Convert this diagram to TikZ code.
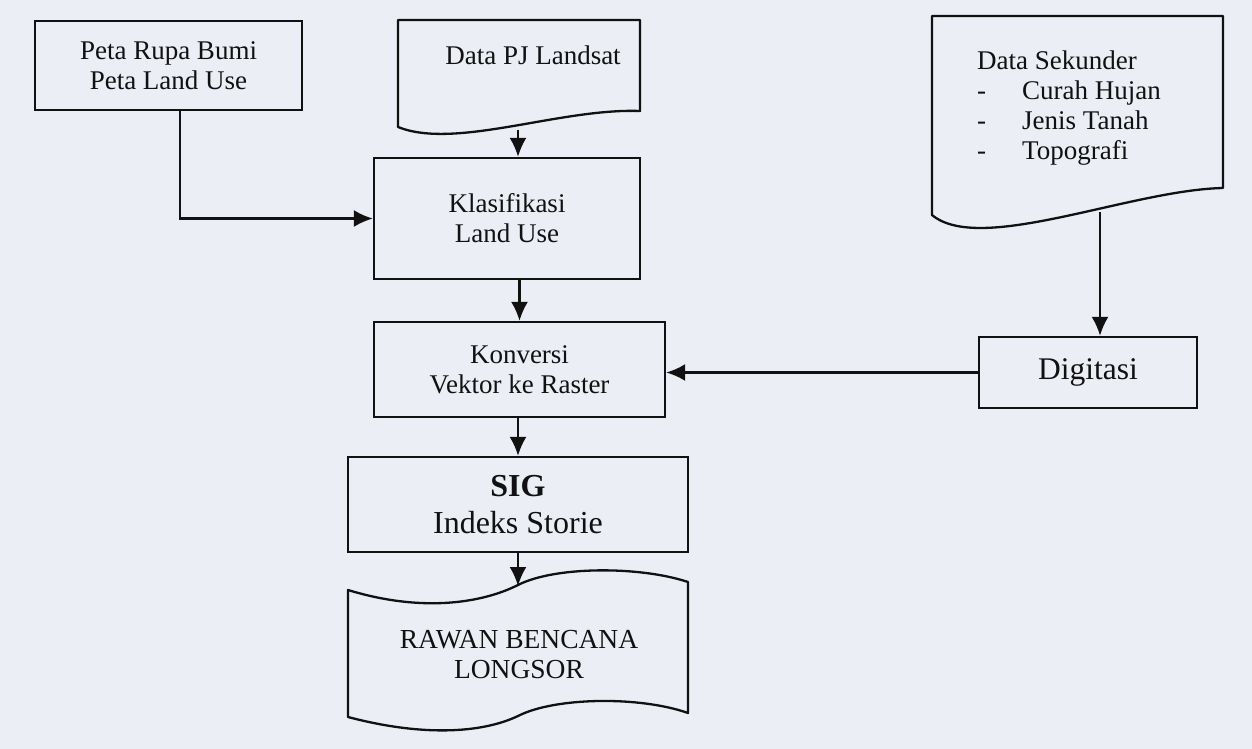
\documentclass[tikz,border=0pt]{standalone}
\usepackage{fontspec}
\setmainfont{Liberation Serif}
\usetikzlibrary{arrows.meta}
\definecolor{paper}{HTML}{EBEEF4}
\definecolor{ink}{HTML}{111111}
\tikzset{
  ln/.style={draw=ink, line width=2.3pt},
  arr/.style={ln, -{Latex[length=19pt,width=17pt]}},
  boxst/.style={ln, rectangle, inner sep=0pt, align=center, text=ink},
  txt/.style={inner sep=0pt, align=center, text=ink},
  f26/.style={font=\fontsize{27}{30}\selectfont},
  f32/.style={font=\fontsize{32}{37}\selectfont},
}
\begin{document}
\begin{tikzpicture}[x=1pt,y=-1pt]
\fill[paper] (0,0) rectangle (1252,749);
\useasboundingbox (0,0) rectangle (1252,749);

% Peta Rupa Bumi box
\node[boxst,f26,minimum width=267pt,minimum height=89pt] (peta) at (168.5,65.5)
  {Peta Rupa Bumi\\Peta Land Use};

% Data PJ Landsat (document)
\draw[ln, line join=round] (640,20) -- (398,20) -- (398,127)
  .. controls (455,150) and (560,108) .. (640,111) -- cycle;
\node[txt,f26] (pj) at (533,55) {Data PJ Landsat};
\coordinate (pjb) at (518,130);

% Klasifikasi
\node[boxst,f26,minimum width=266pt,minimum height=121pt] (klas) at (507,218.5)
  {Klasifikasi\\Land Use};

% Data Sekunder (document)
\draw[ln, line join=round] (1223,16) -- (932,16) -- (932,215)
  .. controls (980,255) and (1130,190) .. (1223,188) -- cycle;
\node[txt,f26,anchor=north west] (ds) at (977,48)
  {\begin{tabular}{@{}l@{\hspace{36pt}}l@{}}
   \multicolumn{2}{@{}l@{}}{Data Sekunder}\\
   - & Curah Hujan\\
   - & Jenis Tanah\\
   - & Topografi
   \end{tabular}};
\coordinate (dsb) at (1100,212);

% Digitasi
\node[boxst,font=\fontsize{31.5}{36}\selectfont,minimum width=218pt,minimum height=71pt] (digi) at (1088,372.5)
  {Digitasi};

% Konversi
\node[boxst,f26,minimum width=291pt,minimum height=95pt] (konv) at (519.5,369.5)
  {Konversi\\Vektor ke Raster};

% SIG
\node[boxst,f32,minimum width=340pt,minimum height=95pt] (sig) at (518,504.5)
  {\textbf{SIG}\\Indeks Storie};

% Rawan Bencana Longsor (tape)
\draw[ln, line join=round] (348,590)
  .. controls (420,612) and (480,604) .. (518,585)
  .. controls (555,566) and (640,566) .. (688,582)
  -- (688,713)
  .. controls (640,696) and (555,697) .. (518,716)
  .. controls (480,734) and (420,736) .. (348,717) -- cycle;
\node[txt,font=\fontsize{27.5}{30}\selectfont] (rawan) at (519,655) {RAWAN BENCANA\\LONGSOR};
\coordinate (rawt) at (518,586);

% connectors
\draw[arr] ([xshift=11.5pt]peta.south) |- (klas.west);
\draw[arr] (pjb) -- (pjb |- klas.north);
\draw[arr] (konv.north |- klas.south) -- (konv.north);
\draw[arr] (dsb) -- (dsb |- digi.north);
\draw[arr] (digi.west) -- (digi.west -| konv.east);
\draw[arr] (konv.south -| sig.north) -- (sig.north);
\draw[arr] (sig.south) -- (rawt);
\end{tikzpicture}
\end{document}
